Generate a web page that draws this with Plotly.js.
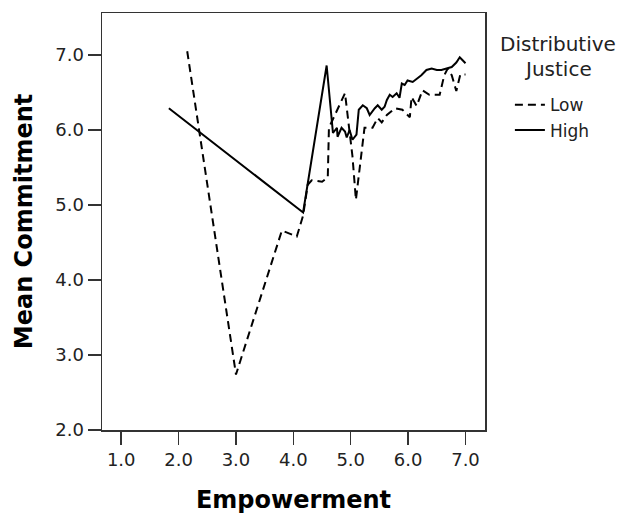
<!DOCTYPE html>
<html>
<head>
<meta charset="utf-8">
<script src="https://cdn.plot.ly/plotly-3.0.1.min.js"></script>
<style>html,body{margin:0;padding:0;background:#fff;}#chart{width:629px;height:521px;}</style>
</head>
<body>
<div id="chart"></div>
<script>
// Distributive Justice = Low (dashed)
const lowEmpowerment = [2.15, 3.00, 3.80, 4.06, 4.17, 4.25, 4.32, 4.50, 4.60, 4.62, 4.90, 4.95, 5.03, 5.09, 5.24, 5.38, 5.47, 5.54, 5.63, 5.77, 5.90, 6.03, 6.06, 6.15, 6.25, 6.37, 6.55, 6.63, 6.69, 6.76, 6.84, 6.91, 7.00];
const lowCommitment  = [7.05, 2.74, 4.66, 4.58, 4.86, 5.27, 5.33, 5.31, 5.37, 6.03, 6.49, 6.16, 5.65, 5.07, 6.03, 6.03, 6.16, 6.10, 6.20, 6.29, 6.27, 6.17, 6.44, 6.32, 6.53, 6.47, 6.47, 6.73, 6.82, 6.73, 6.52, 6.74, 6.74];
// Distributive Justice = High (solid)
const highEmpowerment = [1.83, 4.17, 4.58, 4.69, 4.76, 4.77, 4.84, 4.90, 4.93, 4.98, 5.03, 5.10, 5.14, 5.21, 5.28, 5.33, 5.42, 5.47, 5.54, 5.59, 5.63, 5.68, 5.73, 5.80, 5.85, 5.89, 5.94, 5.99, 6.08, 6.17, 6.23, 6.32, 6.41, 6.50, 6.58, 6.67, 6.76, 6.84, 6.90, 6.95, 7.00];
const highCommitment  = [6.29, 4.90, 6.86, 5.96, 6.03, 5.91, 6.03, 5.98, 5.90, 6.00, 5.87, 5.94, 6.27, 6.33, 6.29, 6.20, 6.29, 6.33, 6.27, 6.31, 6.40, 6.47, 6.44, 6.49, 6.43, 6.62, 6.60, 6.66, 6.64, 6.69, 6.73, 6.80, 6.82, 6.80, 6.80, 6.82, 6.84, 6.90, 6.97, 6.93, 6.89];
const seriesNames = ["Low", "High"];
const legendTitleLines = ["Distributive", "Justice"];
const xTickVals = [1, 2, 3, 4, 5, 6, 7];
const xTickText = ["1.0", "2.0", "3.0", "4.0", "5.0", "6.0", "7.0"];
const yTickVals = [2, 3, 4, 5, 6, 7];
const yTickText = ["2.0", "3.0", "4.0", "5.0", "6.0", "7.0"];

const traces = [
  {x: lowEmpowerment, y: lowCommitment, name: seriesNames[0], mode: "lines", type: "scatter",
   line: {color: "#000", width: 2, dash: "8px,5px"}},
  {x: highEmpowerment, y: highCommitment, name: seriesNames[1], mode: "lines", type: "scatter",
   line: {color: "#000", width: 2}}
];

const tickFont = {family: "DejaVu Sans", size: 18, color: "#222"};
const titleFont = {family: "DejaVu Sans", size: 24, color: "#000", weight: "bold"};
const legendFont = {family: "DejaVu Sans", size: 20, color: "#222"};

const layout = {
  width: 629, height: 521,
  margin: {l: 102, r: 144, t: 13, b: 91, autoexpand: false},
  paper_bgcolor: "#fff", plot_bgcolor: "#fff",
  showlegend: true,
  legend: {
    x: 1.065, xanchor: "left", y: 0.822, yanchor: "top",
    font: {family: "DejaVu Sans", size: 17, color: "#222"},
    traceorder: "normal", itemwidth: 30,
    bgcolor: "rgba(0,0,0,0)", borderwidth: 0
  },
  annotations: [
    {text: legendTitleLines[0], xref: "paper", yref: "paper", x: 1.19, y: 0.925, xanchor: "center", yanchor: "middle", showarrow: false, font: legendFont},
    {text: legendTitleLines[1], xref: "paper", yref: "paper", x: 1.19, y: 0.866, xanchor: "center", yanchor: "middle", showarrow: false, font: legendFont}
  ],
  xaxis: {
    range: [0.665, 7.34], tickmode: "array", tickvals: xTickVals, ticktext: xTickText,
    showgrid: false, zeroline: false, showline: true, mirror: true, linecolor: "#333", linewidth: 1.5,
    ticks: "outside", ticklen: 13, tickwidth: 1.5, tickcolor: "#333",
    tickfont: tickFont,
    title: {text: "Empowerment", font: titleFont, standoff: 22}
  },
  yaxis: {
    range: [2, 7.56], tickmode: "array", tickvals: yTickVals, ticktext: yTickText,
    showgrid: false, zeroline: false, showline: true, mirror: true, linecolor: "#333", linewidth: 1.5,
    ticks: "outside", ticklen: 13, tickwidth: 1.5, tickcolor: "#333",
    tickfont: tickFont,
    title: {text: "Mean Commitment", font: titleFont, standoff: 16}
  }
};

Plotly.newPlot("chart", traces, layout, {displayModeBar: false, staticPlot: true});
</script>
</body>
</html>
